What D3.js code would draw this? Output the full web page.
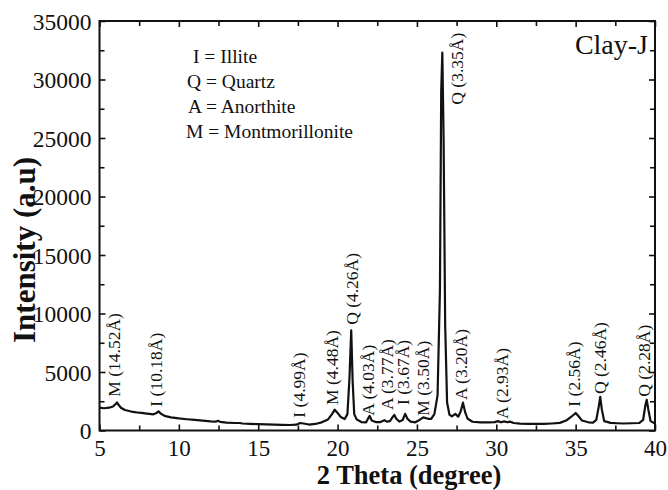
<!DOCTYPE html>
<html>
<head>
<meta charset="utf-8">
<script src="https://cdn.jsdelivr.net/npm/d3@7"></script>
<style>
  html, body { margin: 0; padding: 0; background: #fff; }
  svg { display: block; }
  text { font-family: "Liberation Serif", "Times New Roman", serif; fill: #111; }
</style>
</head>
<body>
<svg id="chart" width="668" height="490"></svg>
<script>
// ---- data ----
const twoTheta = [5.0,5.3,5.6,5.85,6.0,6.1,6.2,6.35,6.6,7.0,7.5,8.0,8.4,8.6,8.72,8.85,9.1,9.5,10.0,10.5,11.0,11.5,12.0,12.35,12.45,12.6,13.0,13.5,13.85,14.0,14.5,15.0,15.5,16.0,16.5,17.0,17.4,17.65,17.85,18.2,18.6,19.0,19.4,19.65,19.82,20.0,20.2,20.45,20.62,20.75,20.86,20.95,21.05,21.2,21.5,21.8,21.95,22.02,22.15,22.4,22.7,22.95,23.1,23.3,23.5,23.58,23.7,23.9,24.1,24.26,24.4,24.6,24.9,25.1,25.4,25.7,25.9,26.1,26.3,26.45,26.53,26.6,26.68,26.78,26.9,27.05,27.2,27.42,27.6,27.75,27.9,28.05,28.2,28.5,29.0,29.5,29.9,30.1,30.3,30.5,30.7,30.85,31.1,31.5,32.0,32.5,33.0,33.5,34.0,34.4,34.75,35.0,35.2,35.4,35.8,36.1,36.3,36.45,36.55,36.65,36.8,37.2,37.6,38.0,38.5,39.0,39.25,39.4,39.48,39.58,39.72,40.0];
const intensity = [1950,1900,1950,2050,2250,2400,2200,1950,1750,1620,1520,1450,1380,1500,1640,1450,1250,1120,1030,960,900,840,780,760,830,740,680,640,640,600,570,540,520,500,480,470,500,640,600,510,560,700,950,1400,1780,1500,1150,980,1400,4500,8550,4200,1400,950,720,700,1100,1250,850,720,720,880,760,800,1200,1330,1000,760,900,1420,1000,760,700,850,1120,1000,1000,1400,3000,12000,29000,32300,25000,9000,2400,1350,1200,1420,1180,1600,2380,1500,1000,750,700,690,720,800,700,780,700,760,640,580,560,560,560,600,650,850,1200,1500,1200,850,700,680,900,2000,2880,1800,800,650,620,600,620,640,900,2200,2620,1800,800,600];

const xTickLabels = [5,10,15,20,25,30,35,40];
const yTickLabels = [0,5000,10000,15000,20000,25000,30000,35000];

const peakLabels = ["M (14.52Å)","I (10.18Å)","I (4.99Å)","M (4.48Å)","Q (4.26Å)","A (4.03Å)","A (3.77Å)","I (3.67Å)","M (3.50Å)","Q (3.35Å)","A (3.20Å)","A (2.93Å)","I (2.56Å)","Q (2.46Å)","Q (2.28Å)"];
const peakLabelTheta = [6.32,8.93,17.93,20.05,21.3,22.27,23.5,24.53,25.77,27.9,28.17,30.75,35.25,36.93,39.66];
const peakLabelBase = [2890,2040,1100,2180,9030,1270,1750,2180,1270,27850,2610,985,2040,3120,2890];

const legendLines = ["I = Illite","Q = Quartz","A = Anorthite","M = Montmorillonite"];
const sampleName = "Clay-J";

// ---- layout ----
const L = 99.5, R = 655, T = 21, B = 430.5;
const FONT = "Liberation Serif, Times New Roman, serif";
const svg = d3.select("#chart");
const x = d3.scaleLinear().domain([5,40]).range([L,R]);
const y = d3.scaleLinear().domain([0,35000]).range([B,T]);

const xMinor = d3.range(7.5, 40, 5);
const yMinor = d3.range(2500, 35000, 5000);

function axis(gen, tr, vals, size, labels) {
  const g = svg.append("g").attr("transform", tr)
    .call(gen.tickValues(vals).tickSizeInner(size).tickSizeOuter(0).tickFormat(labels ? d3.format("d") : ""));
  g.attr("font-family", FONT);
  g.select(".domain").remove();
  g.selectAll(".tick line").attr("stroke", "#111").attr("stroke-width", 1.6);
  g.selectAll(".tick text").attr("font-family", FONT).style("font-family", FONT);
  return g;
}
// bottom
const gx = axis(d3.axisBottom(x), `translate(0,${B})`, xTickLabels, -6, true);
gx.selectAll(".tick text").attr("y", 25).attr("dy", null).style("font-size", "23px").attr("fill", "#111");
axis(d3.axisBottom(x), `translate(0,${B})`, xMinor, -5, false);
// top
axis(d3.axisTop(x), `translate(0,${T})`, xTickLabels, -6, false);
axis(d3.axisTop(x), `translate(0,${T})`, xMinor, -5, false);
// left
const gy = axis(d3.axisLeft(y), `translate(${L},0)`, yTickLabels, -6, true);
gy.selectAll(".tick text").attr("x", -8).attr("dy", "0.34em").style("font-size", "23.5px").attr("fill", "#111");
axis(d3.axisLeft(y), `translate(${L},0)`, yMinor, -5, false);
// right
axis(d3.axisRight(y), `translate(${R},0)`, yTickLabels, -6, false);
axis(d3.axisRight(y), `translate(${R},0)`, yMinor, -5, false);

// frame
svg.append("rect").attr("x", L).attr("y", T).attr("width", R-L).attr("height", B-T)
  .attr("fill", "none").attr("stroke", "#111").attr("stroke-width", 2);

// curve
const pts = twoTheta.map((t,i) => [t, intensity[i]]);
svg.append("path").datum(pts)
  .attr("fill", "none").attr("stroke", "#111").attr("stroke-width", 2.2).attr("stroke-linejoin", "round")
  .attr("d", d3.line().x(d => x(d[0])).y(d => y(d[1])));

// peak labels
peakLabels.forEach((s,i) => {
  const px = x(peakLabelTheta[i]), py = y(peakLabelBase[i]);
  svg.append("text").attr("transform", `translate(${px},${py}) rotate(-90)`)
    .style("font-size", "17.5px").attr("fill", "#222").text(s);
});

// legend
const legendX = [193,187,188,186];
legendLines.forEach((s,i) => {
  svg.append("text").attr("x", legendX[i]).attr("y", 63 + i*25)
    .style("font-size", "19.5px").text(s);
});
svg.append("text").attr("x", 648).attr("y", 54).attr("text-anchor", "end")
  .style("font-size", "28px").text(sampleName);

// axis titles
svg.append("text").attr("x", 409).attr("y", 484).attr("text-anchor", "middle")
  .style("font-size", "26.5px").style("font-weight", "bold").text("2 Theta (degree)");
svg.append("text").attr("transform", "translate(35,250) rotate(-90)").attr("text-anchor", "middle")
  .style("font-size", "31px").style("font-weight", "bold").text("Intensity (a.u)");
</script>
</body>
</html>
